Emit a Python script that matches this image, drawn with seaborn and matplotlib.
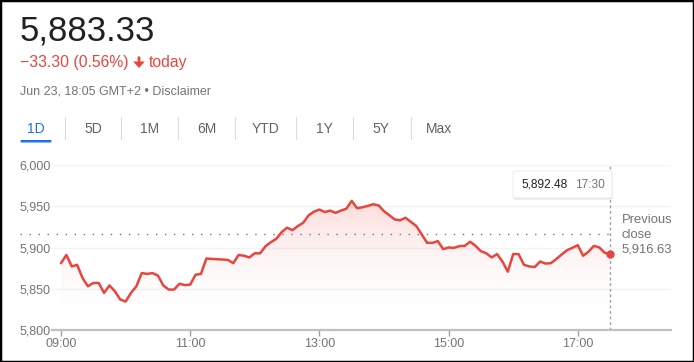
import numpy as np
import pandas as pd
import matplotlib
matplotlib.use("Agg")
import matplotlib.pyplot as plt
import seaborn as sns
from matplotlib.patches import Polygon, Rectangle, FancyBboxPatch
from matplotlib.lines import Line2D

# ---------------- data ----------------
price_text = "5,883.33"
change_text = "\u221233.30 (0.56%)"
period_text = "today"
stamp_text = "Jun 23, 18:05 GMT+2 \u2022 Disclaimer"
tabs = ["1D", "5D", "1M", "6M", "YTD", "1Y", "5Y", "Max"]

# 5-minute prices from 09:00 to 17:30
prices = [5881, 5891, 5877, 5879, 5863, 5853, 5857, 5857, 5845, 5854,
          5847, 5837, 5834.5, 5845, 5853, 5869, 5868, 5869, 5866, 5854,
          5849, 5849, 5856, 5854.5, 5855, 5867, 5868, 5886.6, 5886.2, 5885.8,
          5885.4, 5885, 5881, 5891, 5890, 5888, 5893, 5893, 5901.6, 5906.5,
          5910.6, 5918.7, 5924, 5921, 5926, 5930, 5939, 5943.5, 5946, 5943,
          5944.7, 5942, 5944.7, 5947, 5956.5, 5947.6, 5948.8, 5950.4, 5952.4, 5951,
          5944, 5939, 5934, 5933, 5936, 5931, 5926, 5916, 5905.7, 5905.7,
          5907.7, 5898, 5900, 5899.6, 5901.6, 5902, 5907, 5902, 5895.5, 5893,
          5888, 5892, 5883, 5870.7, 5892, 5892, 5879, 5877, 5876.4, 5883,
          5880.5, 5881, 5886, 5891.5, 5896.7, 5899.6, 5902.8, 5890, 5895, 5902,
          5900, 5893.5, 5892.48]
minutes = [5 * i for i in range(len(prices))]  # minutes after 09:00

x_tick_minutes = [0, 120, 240, 360, 480]
x_tick_labels = ["09:00", "11:00", "13:00", "15:00", "17:00"]
y_ticks = [5800, 5850, 5900, 5950, 6000]
y_tick_labels = ["5,800", "5,850", "5,900", "5,950", "6,000"]
prev_close = 5916.63
prev_close_label = "5,916.63"
tip_value = "5,892.48"
tip_time = "17:30"

# ---------------- style ----------------
RED = "#e8453c"
GRAY = "#70757a"
DARK = "#202124"
BLUE = "#1a73e8"

sns.set_style("white")
plt.rcParams["font.family"] = ["Liberation Sans", "DejaVu Sans"]

W, H = 694, 362
fig = plt.figure(figsize=(W / 100, H / 100), dpi=100)

def fx(x):
    return x / W

def fy(y):
    return 1 - y / H

# ---------------- header ----------------
fig.text(fx(19.5), fy(40.7), price_text, fontsize=25, color=DARK, va="baseline", ha="left")
fig.text(fx(20.5), fy(67.5), change_text, fontsize=11.3, color=RED, va="baseline", ha="left")
# bold down arrow icon
arrow_px = [(137.6, 56.5), (140.4, 56.5), (140.4, 61.5), (144.8, 61.5),
            (139, 68), (133.2, 61.5), (137.6, 61.5)]
fig.add_artist(Polygon([(fx(a), fy(b)) for a, b in arrow_px], closed=True,
                       transform=fig.transFigure, facecolor=RED, edgecolor="none"))
fig.text(fx(149), fy(67.5), period_text, fontsize=11.3, color=RED, va="baseline", ha="left")
fig.text(fx(20), fy(94), stamp_text, fontsize=9, color=GRAY, va="baseline", ha="left")

# tabs
tab_centers = [36, 93, 150, 207, 265.5, 324, 381, 439]
sep_x = [65, 121, 178, 235, 296, 353, 410.5]
for t, cx in zip(tabs, tab_centers):
    fig.text(fx(cx), fy(128.5), t, fontsize=10, color=BLUE if t == "1D" else "#5f6368",
             ha="center", va="center")
for sx in sep_x:
    fig.add_artist(Line2D([fx(sx), fx(sx)], [fy(117), fy(139)], color="#dadce0", lw=0.8))
fig.add_artist(FancyBboxPatch((fx(20.5), fy(142.5)), fx(31), 2.5 / H,
                              boxstyle="round,pad=0,rounding_size=0.002",
                              facecolor=BLUE, edgecolor="none"))

# ---------------- chart ----------------
ax = fig.add_axes([fx(52), (H - 330) / H, (671 - 52) / W, (330 - 165) / H])
df = pd.DataFrame({"minute": minutes, "price": prices})

# gradient fill under line
verts = np.column_stack([[minutes[0]] + minutes + [minutes[-1]],
                         [5800] + prices + [5800]])
poly = Polygon(verts, closed=True, facecolor="none", edgecolor="none")
ax.add_patch(poly)
vals = np.linspace(6000, 5800, 256)
alpha = 0.30 * ((vals - 5800) / 200) ** 2
rgba = np.zeros((256, 1, 4))
rgba[..., 0], rgba[..., 1], rgba[..., 2] = 0.91, 0.27, 0.24
rgba[:, 0, 3] = alpha
img = ax.imshow(rgba, extent=[minutes[0], minutes[-1], 5800, 6000], aspect="auto",
                origin="upper", zorder=1, interpolation="bilinear")
img.set_clip_path(poly)

sns.lineplot(data=df, x="minute", y="price", ax=ax, color=RED, lw=1.8, zorder=3)
ax.plot([minutes[-1]], [prices[-1]], "o", ms=6, color=RED, zorder=4, mec="none")

xmin = -(61 - 52) / 64.6 * 60
xmax = (671 - 61) / 64.6 * 60
ax.set_xlim(xmin, xmax)
ax.set_ylim(5800, 6000)

ax.set_xticks(x_tick_minutes)
ax.set_xticklabels(x_tick_labels)
ax.set_yticks(y_ticks)
ax.set_yticklabels(y_tick_labels)
ax.set_xlabel("")
ax.set_ylabel("")
ax.yaxis.grid(True, color="#f1f3f4", lw=1)
ax.set_axisbelow(True)
for s in ["left", "top", "right"]:
    ax.spines[s].set_visible(False)
ax.spines["bottom"].set_color("#bdc1c6")
ax.spines["bottom"].set_linewidth(1.6)
ax.spines["bottom"].set_zorder(5)
ax.tick_params(axis="x", length=4.5, width=1, color="#9aa0a6", pad=1.5,
               labelsize=9, labelcolor=GRAY, bottom=True)
ax.tick_params(axis="y", length=0, pad=1, labelsize=9, labelcolor=GRAY)

# previous close dotted line
px_left = (20 - 61) / 64.6 * 60
ax.plot([px_left, minutes[-1]], [prev_close, prev_close], color="#70757a", lw=1.0,
        ls=(0, (1, 5.5)), clip_on=False, zorder=2)
# vertical dashed line at last point
ax.axvline(minutes[-1], color="#9aa0a6", lw=1.0, ls=(0, (2, 2)), zorder=2)

# previous close label
fig.text(fx(621.5), fy(220), "Previous", fontsize=9.4, color=GRAY, va="center", ha="left")
fig.text(fx(621.5), fy(234.5), "close", fontsize=9.4, color=GRAY, va="center", ha="left")
fig.text(fx(621.5), fy(249), prev_close_label, fontsize=9.4, color=GRAY, va="center", ha="left")

# tooltip
fig.add_artist(FancyBboxPatch((fx(513.5), fy(199.5)), fx(99), 27 / H,
                              boxstyle="round,pad=0,rounding_size=0.004",
                              facecolor="#d0d0d0", edgecolor="none", alpha=0.6))
fig.add_artist(FancyBboxPatch((fx(513), fy(198)), fx(99), 27 / H,
                              boxstyle="round,pad=0,rounding_size=0.004",
                              facecolor="white", edgecolor="#e8eaed", lw=0.6))
fig.text(fx(521), fy(184.5), tip_value, fontsize=8.6, color=DARK, va="center", ha="left")
fig.text(fx(575), fy(184.5), tip_time, fontsize=8.6, color=GRAY, va="center", ha="left")

# outer black frame
fig.add_artist(Rectangle((0, 0), 1, 1, transform=fig.transFigure, fill=False,
                         edgecolor="black", lw=2.5))

fig.savefig("out.png", dpi=100)
